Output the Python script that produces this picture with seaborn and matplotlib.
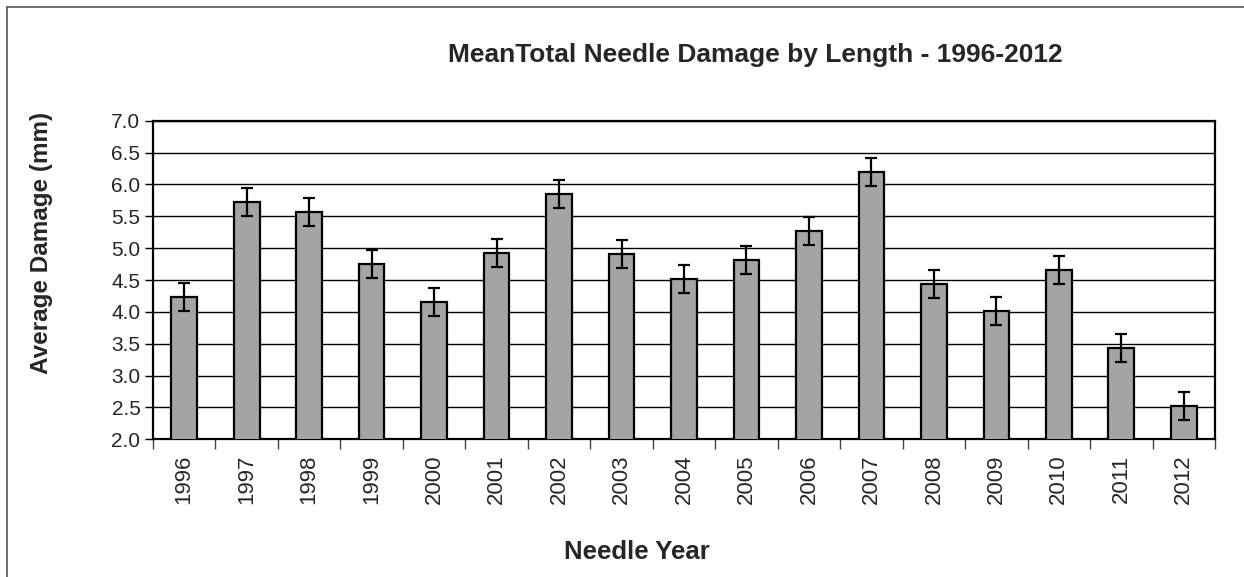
import numpy as np
import pandas as pd
import matplotlib
matplotlib.use("Agg")
import matplotlib.pyplot as plt
from matplotlib.lines import Line2D
import seaborn as sns

# -----------------------------------
# Data
# -----------------------------------
years = ['1996', '1997', '1998', '1999', '2000', '2001', '2002', '2003', '2004',
         '2005', '2006', '2007', '2008', '2009', '2010', '2011', '2012']
mean_damage = [4.24, 5.73, 5.56, 4.75, 4.16, 4.92, 5.85, 4.91, 4.52,
               4.81, 5.27, 6.20, 4.44, 4.01, 4.66, 3.44, 2.52]
std_err = [0.22, 0.22, 0.22, 0.22, 0.22, 0.22, 0.22, 0.22, 0.22,
           0.22, 0.22, 0.22, 0.22, 0.22, 0.22, 0.22, 0.22]
y_ticks = [2.0, 2.5, 3.0, 3.5, 4.0, 4.5, 5.0, 5.5, 6.0, 6.5, 7.0]

df = pd.DataFrame({'year': years, 'damage': mean_damage, 'se': std_err})

# -----------------------------------
# Style
# -----------------------------------
sns.set_style("white")
plt.rcParams['font.family'] = ['Liberation Sans', 'DejaVu Sans']

W, H = 1244, 577
fig = plt.figure(figsize=(W / 100, H / 100), dpi=100)
ax = fig.add_axes([153 / W, 1 - 439.3 / H, (1215 - 153) / W, (439.3 - 120.7) / H])

# -----------------------------------
# Bars + error bars
# -----------------------------------
sns.barplot(data=df, x='year', y='damage', color='#a4a4a4', saturation=1,
            width=0.41, edgecolor='black', linewidth=1.6, errorbar=None,
            ax=ax, zorder=3)

xpos = np.arange(len(df))
ax.errorbar(xpos, df['damage'], yerr=df['se'], fmt='none', ecolor='black',
            elinewidth=1.6, capsize=4.5, capthick=1.6, zorder=4)

# -----------------------------------
# Axes
# -----------------------------------
ax.set_ylim(2.0, 7.0)
ax.set_xlim(-0.5, len(df) - 0.5)
ax.set_yticks(y_ticks)
ax.set_yticklabels([f"{v:.1f}" for v in y_ticks], fontsize=15)
ax.yaxis.grid(True, color='black', linewidth=1.0, zorder=0)
ax.set_axisbelow(True)

ax.set_xticks(xpos)
ax.set_xticklabels(years, rotation=90, fontsize=16)
ax.tick_params(axis='x', which='major', length=0, pad=11)
ax.set_xticks(np.arange(-0.5, len(df), 1.0), minor=True)
ax.tick_params(axis='x', which='minor', direction='out', length=7, width=1.0,
               color='#444444', bottom=True)
ax.tick_params(axis='y', direction='out', length=6, width=1.0, left=True,
               color='black', pad=3)

for side in ['left', 'bottom', 'top', 'right']:
    ax.spines[side].set_visible(True)
    ax.spines[side].set_color('black')
    ax.spines[side].set_linewidth(1.6)

ax.set_xlabel('')
ax.set_ylabel('')

# -----------------------------------
# Titles / labels
# -----------------------------------
fig.text(755 / W, 1 - 55 / H, 'MeanTotal Needle Damage by Length - 1996-2012',
         ha='center', va='center', fontsize=19, fontweight='bold')
fig.text(42 / W, 1 - 243 / H, 'Average Damage (mm)', rotation=90,
         ha='center', va='center', fontsize=17.5, fontweight='bold')
fig.text(637 / W, 1 - 552 / H, 'Needle Year',
         ha='center', va='center', fontsize=18.5, fontweight='bold')

# chart area border (top and left edges only visible)
fig.add_artist(Line2D([7 / W, 1.0], [1 - 7 / H, 1 - 7 / H], color='#555555',
                      linewidth=1.2, transform=fig.transFigure))
fig.add_artist(Line2D([7 / W, 7 / W], [0.0, 1 - 7 / H], color='#555555',
                      linewidth=1.2, transform=fig.transFigure))

fig.savefig('out.png', dpi=100, facecolor='white')
